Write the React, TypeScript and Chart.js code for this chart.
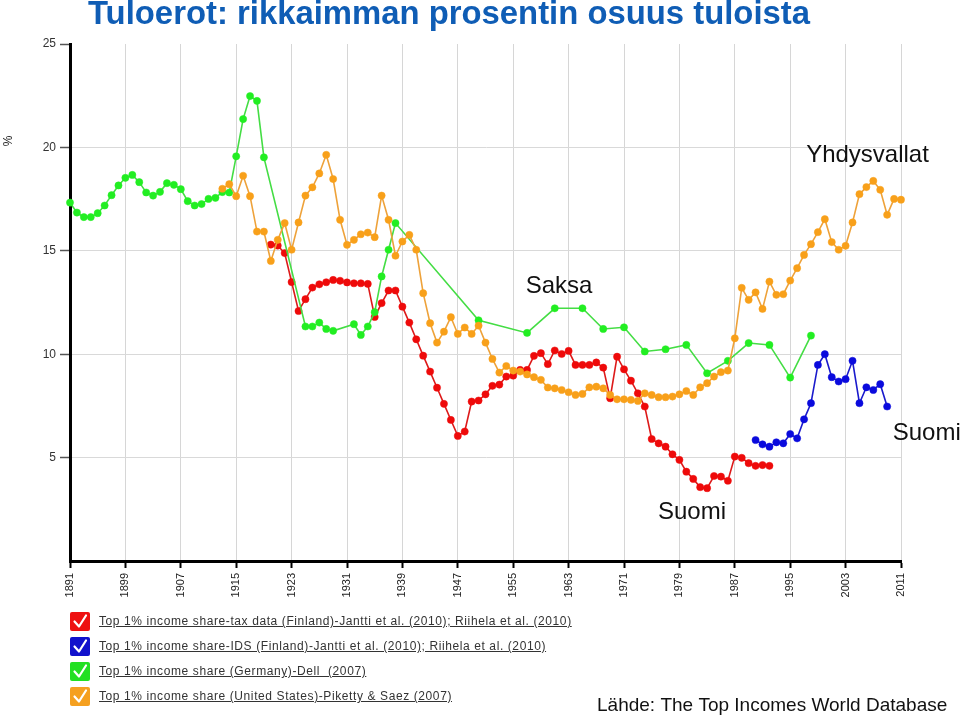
import React, { useEffect, useRef } from "react";
import { Chart, registerables } from "chart.js";

Chart.register(...registerables);

// ---- axis / category data ----
const FIRST_YEAR = 1891;
const LAST_YEAR = 2011;
const LABEL_STEP = 8;
const yTickValues = [5, 10, 15, 20, 25];

// ---- series ----
// Finland, tax data (annual from 1920)
const finlandTaxStart = 1920;
const finlandTaxValues = [
  15.3, 15.25, 14.89, 13.49, 12.09, 12.66, 13.22, 13.38, 13.48, 13.59,
  13.55, 13.47, 13.43, 13.43, 13.4, 11.8, 12.47, 13.08, 13.08, 12.3,
  11.53, 10.72, 9.93, 9.16, 8.38, 7.6, 6.82, 6.05, 6.26, 7.71,
  7.76, 8.06, 8.47, 8.53, 8.92, 8.96, 9.24, 9.24, 9.92, 10.05,
  9.52, 10.18, 10.01, 10.16, 9.48, 9.48, 9.48, 9.6, 9.35, 7.87,
  9.88, 9.27, 8.72, 8.11, 7.47, 5.9, 5.69, 5.53, 5.16, 4.89,
  4.32, 3.97, 3.57, 3.52, 4.11, 4.08, 3.88, 5.05, 4.99, 4.73,
  4.6, 4.64, 4.6,
];

// Finland, IDS (annual from 1990)
const finlandIdsStart = 1990;
const finlandIdsValues = [
  5.85, 5.64, 5.53, 5.74, 5.69, 6.14, 5.93, 6.85, 7.63, 9.48,
  10.0, 8.89, 8.68, 8.79, 9.68, 7.63, 8.4, 8.27, 8.55, 7.47,
];

// Germany (irregular years)
const germanyYears = [
  1891, 1892, 1893, 1894, 1895, 1896, 1897, 1898, 1899, 1900,
  1901, 1902, 1903, 1904, 1905, 1906, 1907, 1908, 1909, 1910,
  1911, 1912, 1913, 1914, 1915, 1916, 1917, 1918, 1919,
  1925, 1926, 1927, 1928, 1929, 1932, 1933, 1934, 1935, 1936, 1937, 1938,
  1950, 1957, 1961, 1965, 1968, 1971, 1974, 1977, 1980, 1983, 1986, 1989,
  1992, 1995, 1998,
];
const germanyValues = [
  17.33, 16.85, 16.63, 16.63, 16.82, 17.19, 17.69, 18.16, 18.53, 18.67,
  18.32, 17.82, 17.67, 17.85, 18.27, 18.19, 17.98, 17.4, 17.19, 17.26,
  17.51, 17.56, 17.84, 17.82, 19.57, 21.37, 22.48, 22.25, 19.52,
  11.34, 11.34, 11.53, 11.22, 11.13, 11.45, 10.93, 11.34, 12.03, 13.76, 15.05, 16.34,
  11.64, 11.03, 12.22, 12.22, 11.22, 11.3, 10.13, 10.24, 10.45, 9.08, 9.68, 10.54,
  10.45, 8.87, 10.9,
];

// United States (annual from 1913)
const usStart = 1913;
const usValues = [
  18.0, 18.22, 17.64, 18.63, 17.64, 15.93, 15.93,
  14.51, 15.53, 16.34, 15.05, 16.37, 17.67, 18.07, 18.74, 19.64, 18.47,
  16.5, 15.29, 15.53, 15.8, 15.88, 15.66, 17.67, 16.5, 14.76, 15.45,
  15.77, 15.05, 12.95, 11.5, 10.56, 11.09, 11.79, 10.98, 11.29, 10.98,
  11.38, 10.56, 9.77, 9.11, 9.43, 9.21, 9.16, 9.02, 8.89, 8.76,
  8.39, 8.35, 8.27, 8.16, 8.03, 8.08, 8.4, 8.43, 8.35, 8.03,
  7.82, 7.82, 7.79, 7.74, 8.11, 8.03, 7.92, 7.92, 7.95, 8.06,
  8.22, 8.03, 8.4, 8.6, 8.92, 9.13, 9.21, 10.77, 13.21, 12.63,
  12.99, 12.19, 13.51, 12.87, 12.9, 13.56, 14.16, 14.8, 15.32, 15.9,
  16.53, 15.42, 15.05, 15.24, 16.37, 17.74, 18.08, 18.38, 17.95, 16.74,
  17.51, 17.47,
];

// ---- texts ----
const titleText = "Tuloerot: rikkaimman prosentin osuus tuloista";
const sourceText = "Lähde: The Top Incomes World Database";
const legendItems = [
  { label: "Top 1% income share-tax data (Finland)-Jantti et al. (2010); Riihela et al. (2010)", color: "#ee1111" },
  { label: "Top 1% income share-IDS (Finland)-Jantti et al. (2010); Riihela et al. (2010)", color: "#1111cc" },
  { label: "Top 1% income share (Germany)-Dell  (2007)", color: "#22e022" },
  { label: "Top 1% income share (United States)-Piketty & Saez (2007)", color: "#f5a020" },
];
// annotation labels anchored in data space (year, value) = left/baseline
const annotationLabels = [
  { text: "Yhdysvallat", year: 1997.3, value: 19.3 },
  { text: "Saksa", year: 1956.8, value: 12.95 },
  { text: "Suomi", year: 2009.8, value: 5.87 },
  { text: "Suomi", year: 1975.9, value: 2.03 },
];

const FONT = '"Liberation Sans", Arial, Helvetica, sans-serif';

function contiguous(start: number, values: number[]) {
  return values.map((v, i) => ({ x: String(start + i), y: v }));
}
function paired(years: number[], values: number[]) {
  return years.map((yr, i) => ({ x: String(yr), y: values[i] }));
}

const textPlugin = {
  id: "texts",
  afterDraw(chart: any) {
    const ctx = chart.ctx;
    const xs = chart.scales.x;
    const ys = chart.scales.y;
    ctx.save();
    // title
    ctx.fillStyle = "#0f5db5";
    ctx.font = `bold 33px ${FONT}`;
    ctx.textAlign = "left";
    ctx.textBaseline = "alphabetic";
    ctx.fillText(titleText, 88, 24, 722);
    // annotations
    ctx.fillStyle = "#111";
    ctx.font = `24px ${FONT}`;
    for (const a of annotationLabels) {
      const px = xs.getPixelForValue(a.year - FIRST_YEAR);
      const py = ys.getPixelForValue(a.value);
      ctx.fillText(a.text, px, py);
    }
    // source
    ctx.font = `19px ${FONT}`;
    ctx.fillText(sourceText, 597, 711);
    // y axis unit
    ctx.save();
    ctx.translate(12, 141);
    ctx.rotate(-Math.PI / 2);
    ctx.font = `12px ${FONT}`;
    ctx.fillStyle = "#222";
    ctx.textAlign = "center";
    ctx.fillText("%", 0, 0);
    ctx.restore();
    ctx.restore();
  },
};

function CheckBox({ color }: { color: string }) {
  return (
    <svg width="20" height="19" viewBox="0 0 20 19" style={{ display: "block" }}>
      <rect x="0" y="0" width="20" height="19" rx="2" ry="2" fill={color} />
      <polyline points="4.5,9.5 9,14.5 16,3.5" fill="none" stroke="#fff" strokeWidth="2.2" strokeLinecap="round" strokeLinejoin="round" />
    </svg>
  );
}

export default function App() {
  const canvasRef = useRef<HTMLCanvasElement | null>(null);

  useEffect(() => {
    const labels: string[] = [];
    for (let y = FIRST_YEAR; y <= LAST_YEAR; y++) labels.push(String(y));

    const mk = (label: string, data: any[], line: string, point: string) => ({
      label,
      data,
      borderColor: line,
      backgroundColor: point,
      pointBackgroundColor: point,
      pointBorderColor: point,
      pointRadius: 3.6,
      pointBorderWidth: 0.5,
      pointHoverRadius: 3.6,
      borderWidth: 1.6,
      tension: 0,
      spanGaps: true,
      fill: false,
    });

    const chart = new Chart(canvasRef.current as HTMLCanvasElement, {
      type: "line",
      data: {
        labels,
        datasets: [
          mk(legendItems[3].label, contiguous(usStart, usValues), "#eea23a", "#f8a01a"),
          mk(legendItems[2].label, paired(germanyYears, germanyValues), "#44dd44", "#22ee22"),
          mk(legendItems[1].label, contiguous(finlandIdsStart, finlandIdsValues), "#1a1acc", "#0a0add"),
          mk(legendItems[0].label, contiguous(finlandTaxStart, finlandTaxValues), "#dd1a1a", "#ee0a0a"),
        ],
      },
      options: {
        responsive: false,
        animation: false,
        events: [],
        layout: { padding: { left: 0, top: 44, right: 59, bottom: 0 } },
        plugins: {
          legend: { display: false },
          tooltip: { enabled: false },
          title: { display: false },
        },
        scales: {
          x: {
            type: "category",
            offset: false,
            afterFit(scale: any) {
              scale.height = 154;
            },
            border: { display: true, color: "#000", width: 3 },
            grid: {
              color: "#d6d6d6",
              lineWidth: 1,
              tickColor: "#000",
              tickLength: 7,
              tickWidth: 2,
              drawOnChartArea: true,
            },
            ticks: {
              autoSkip: false,
              minRotation: 90,
              maxRotation: 90,
              padding: 5,
              color: "#222",
              font: { family: FONT, size: 11 },
              callback(this: any, val: any) {
                const lbl = this.getLabelForValue(val);
                const yr = Number(lbl);
                return (yr - FIRST_YEAR) % LABEL_STEP === 0 ? lbl : null;
              },
            },
          },
          y: {
            min: 0,
            max: 25,
            afterFit(scale: any) {
              scale.width = 70;
            },
            border: { display: true, color: "#000", width: 3 },
            grid: {
              color: (c: any) => (c.tick && c.tick.value === 25 ? "rgba(0,0,0,0)" : "#d9d9d9"),
              lineWidth: 1,
              tickColor: "#555",
              tickLength: 10,
              tickWidth: 1.5,
            },
            ticks: {
              stepSize: 5,
              padding: 4,
              color: "#333",
              font: { family: FONT, size: 12 },
              callback(val: any) {
                return yTickValues.includes(Number(val)) ? String(val) : null;
              },
            },
          },
        },
      },
      plugins: [textPlugin],
    } as any);

    return () => chart.destroy();
  }, []);

  return (
    <div style={{ position: "absolute", left: 0, top: 0, width: 960, height: 715, background: "#fff", overflow: "hidden" }}>
      <canvas ref={canvasRef} width={960} height={715} style={{ position: "absolute", left: 0, top: 0 }} />
      {legendItems.map((it, i) => (
        <div
          key={i}
          style={{
            position: "absolute",
            left: 70,
            top: 611 + i * 25,
            height: 20,
            display: "flex",
            alignItems: "center",
            fontFamily: FONT,
            fontSize: 12,
            color: "#333",
            whiteSpace: "pre",
          }}
        >
          <CheckBox color={it.color} />
          <span style={{ marginLeft: 9, textDecoration: "underline", letterSpacing: "0.6px" }}>{it.label}</span>
        </div>
      ))}
    </div>
  );
}
